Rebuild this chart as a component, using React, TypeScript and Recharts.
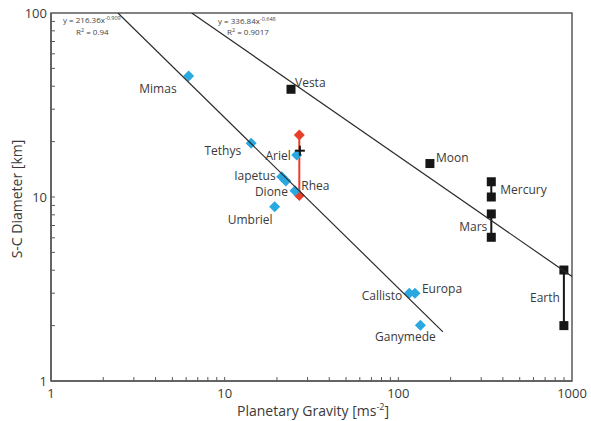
import { ReferenceArea, Scatter, ScatterChart, XAxis, YAxis } from "recharts";

// icy moons (blue diamonds)
const icyNames = ["Mimas", "Tethys", "Ariel", "Iapetus", "", "Dione", "Umbriel", "Callisto", "Europa", "Ganymede"];
const icyGravity = [6.2, 14.2, 26.0, 21.3, 22.5, 25.4, 19.4, 115.6, 124.6, 134];
const icyDiameter = [45.5, 19.6, 16.9, 12.9, 12.2, 10.8, 8.86, 3.0, 3.0, 2.01];

// Rhea range (red)
const rheaNames = ["", "Rhea"];
const rheaGravity = [26.9, 26.9];
const rheaDiameter = [21.7, 10.2];

// Ariel cross
const crossGravity = [27.1];
const crossDiameter = [17.85];

// rocky bodies (black squares)
const vestaGravity = [24.1];
const vestaDiameter = [38.5];
const moonGravity = [152];
const moonDiameter = [15.2];
const mercuryGravity = [343, 343];
const mercuryDiameter = [12.1, 10.0];
const marsGravity = [343, 343];
const marsDiameter = [8.09, 6.04];
const earthGravity = [898, 898];
const earthDiameter = [4.01, 2.0];

// fitted power-law trendlines, end points
const fitAGravity = [2.43, 180.6];
const fitADiameter = [100, 1.85];
const fitBGravity = [6.46, 1000];
const fitBDiameter = [100, 3.7];

const xTicks = [1, 2, 3, 4, 5, 6, 7, 8, 9, 10, 20, 30, 40, 50, 60, 70, 80, 90, 100, 200, 300, 400, 500, 600, 700, 800, 900, 1000];
const yTicks = [1, 2, 3, 4, 5, 6, 7, 8, 9, 10, 20, 30, 40, 50, 60, 70, 80, 90, 100];
const majors = [1, 10, 100, 1000];

const FONT = "'Open Sans', sans-serif";
const AXIS = "#5a5a5a";
const TEXT = "#3a3a3a";
const BLUE = "#2aa8e0";
const RED = "#e6402a";
const BLACK = "#161616";

const zip = (g: number[], d: number[], names?: string[]) =>
  g.map((v, i) => ({ g: v, d: d[i], name: names ? names[i] : "" }));

const labelPos: Record<string, [number, number, "start" | "end" | "middle"]> = {
  Mimas: [-12, 17, "end"],
  Vesta: [4, -2, "start"],
  Tethys: [-10, 12, "end"],
  Ariel: [-6, 5, "end"],
  Iapetus: [-6, 3, "end"],
  Dione: [-7, 5, "end"],
  Rhea: [2, -5, "start"],
  Umbriel: [-2, 17, "end"],
  Moon: [6, -2, "start"],
  Mercury: [9, 12, "start"],
  Mars: [-4, 17, "end"],
  Earth: [-4, 32, "end"],
  Callisto: [-7, 7, "end"],
  Europa: [7, 0, "start"],
  Ganymede: [-15, 16, "middle"],
};

function Label({ cx, cy, name }: { cx: number; cy: number; name: string }) {
  const p = labelPos[name];
  if (!name || !p) return null;
  return (
    <text x={cx + p[0]} y={cy + p[1]} textAnchor={p[2]} fontSize={12} fontFamily={FONT} fill={TEXT}>
      {name}
    </text>
  );
}

const diamond = (color: string) => (props: any) => {
  const { cx, cy, payload } = props;
  const r = 5.5;
  return (
    <g>
      <path d={`M${cx},${cy - r}L${cx + r},${cy}L${cx},${cy + r}L${cx - r},${cy}Z`} fill={color} />
      <Label cx={cx} cy={cy} name={payload?.name} />
    </g>
  );
};

const square = (props: any) => {
  const { cx, cy, payload } = props;
  return (
    <g>
      <rect x={cx - 4.5} y={cy - 4.5} width={9} height={9} fill={BLACK} />
      <Label cx={cx} cy={cy} name={payload?.name} />
    </g>
  );
};

const cross = (props: any) => {
  const { cx, cy } = props;
  return (
    <g stroke={BLACK} strokeWidth={2}>
      <line x1={cx - 5} x2={cx + 5} y1={cy} y2={cy} />
      <line x1={cx} x2={cx} y1={cy - 5} y2={cy + 5} />
    </g>
  );
};

const none = () => <g />;

function XTick({ x, y, payload }: any) {
  const v = payload.value;
  const major = majors.includes(v);
  return (
    <g>
      {v !== 1 && v !== 1000 && <line x1={x} x2={x} y1={y} y2={y - 4} stroke={AXIS} strokeWidth={1} />}
      {major && (
        <text x={x} y={y + 17} textAnchor="middle" fontSize={13} fontFamily={FONT} fill={TEXT}>
          {v}
        </text>
      )}
    </g>
  );
}

function YTick({ x, y, payload }: any) {
  const v = payload.value;
  const major = majors.includes(v);
  return (
    <g>
      {v !== 1 && v !== 100 && <line x1={x} x2={x + 4} y1={y} y2={y} stroke={AXIS} strokeWidth={1} />}
      {major && (
        <text x={x - 4} y={y + 4.5} textAnchor="end" fontSize={13} fontFamily={FONT} fill={TEXT}>
          {v}
        </text>
      )}
    </g>
  );
}

export default function App() {
  return (
    <div style={{ position: "absolute", left: 0, top: 0, width: 591, height: 421, background: "#fff", fontFamily: FONT }}>
      <ScatterChart width={591} height={421} margin={{ top: 13, right: 19, bottom: 0, left: 0 }}>
        <XAxis
          type="number"
          dataKey="g"
          scale="log"
          domain={[1, 1000]}
          ticks={xTicks}
          interval={0}
          tick={<XTick />}
          tickSize={0}
          tickMargin={0}
          height={40}
          stroke={AXIS}
          strokeWidth={1.5}
          allowDataOverflow
        />
        <YAxis
          type="number"
          dataKey="d"
          scale="log"
          domain={[1, 100]}
          ticks={yTicks}
          interval={0}
          tick={<YTick />}
          tickSize={0}
          tickMargin={0}
          width={51}
          stroke={AXIS}
          strokeWidth={1.5}
          allowDataOverflow
        />
        <ReferenceArea x1={1} x2={1000} y1={1} y2={100} fill="none" stroke={AXIS} strokeWidth={1.5} />

        <Scatter data={zip(rheaGravity, rheaDiameter, rheaNames)} line={{ stroke: RED, strokeWidth: 2 }} shape={diamond(RED)} isAnimationActive={false} />
        <Scatter data={zip(icyGravity, icyDiameter, icyNames)} shape={diamond(BLUE)} isAnimationActive={false} />
        <Scatter data={zip(vestaGravity, vestaDiameter, ["Vesta"])} shape={square} isAnimationActive={false} />
        <Scatter data={zip(moonGravity, moonDiameter, ["Moon"])} shape={square} isAnimationActive={false} />
        <Scatter data={zip(mercuryGravity, mercuryDiameter, ["Mercury", ""])} line={{ stroke: BLACK, strokeWidth: 2 }} shape={square} isAnimationActive={false} />
        <Scatter data={zip(marsGravity, marsDiameter, ["Mars", ""])} line={{ stroke: BLACK, strokeWidth: 2 }} shape={square} isAnimationActive={false} />
        <Scatter data={zip(earthGravity, earthDiameter, ["Earth", ""])} line={{ stroke: BLACK, strokeWidth: 2 }} shape={square} isAnimationActive={false} />

        <Scatter data={zip(fitAGravity, fitADiameter)} line={{ stroke: "#2a2a2a", strokeWidth: 1.2 }} shape={none} isAnimationActive={false} />
        <Scatter data={zip(fitBGravity, fitBDiameter)} line={{ stroke: "#2a2a2a", strokeWidth: 1.2 }} shape={none} isAnimationActive={false} />
        <Scatter data={zip(crossGravity, crossDiameter)} shape={cross} isAnimationActive={false} />
      </ScatterChart>

      <svg width={591} height={421} style={{ position: "absolute", left: 0, top: 0, pointerEvents: "none" }}>
        <g fontFamily={FONT} fill="#444" fontSize={8}>
          <text x={63} y={23}>
            y = 216.36x<tspan fontSize={5.5} dy={-3}>-0.909</tspan>
          </text>
          <text x={76} y={35}>
            R<tspan fontSize={5.5} dy={-3}>2</tspan>
            <tspan dy={3}> = 0.94</tspan>
          </text>
          <text x={218} y={24}>
            y = 336.84x<tspan fontSize={5.5} dy={-3}>-0.648</tspan>
          </text>
          <text x={227} y={35}>
            R<tspan fontSize={5.5} dy={-3}>2</tspan>
            <tspan dy={3}> = 0.9017</tspan>
          </text>
        </g>
        <text x={313} y={416} textAnchor="middle" fontSize={14} fontFamily={FONT} fill={TEXT}>
          Planetary Gravity [ms<tspan fontSize={9} dy={-6}>-2</tspan>
          <tspan dy={6}>]</tspan>
        </text>
        <text x={22} y={199} textAnchor="middle" fontSize={14} fontFamily={FONT} fill={TEXT} transform="rotate(-90 22 199)">
          S-C Diameter [km]
        </text>
      </svg>
    </div>
  );
}
